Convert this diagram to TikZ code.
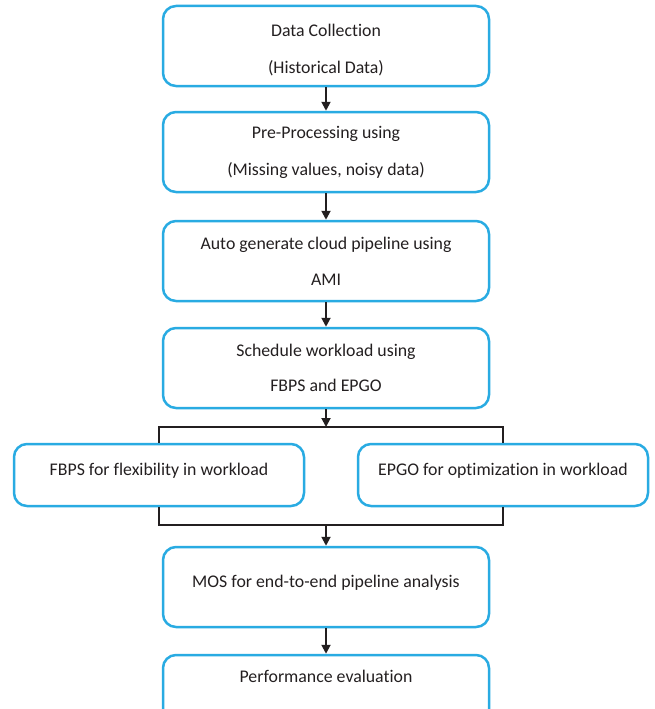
\documentclass[tikz,border=0pt]{standalone}
\usepackage{fontspec}
\setmainfont{Carlito}[Ligatures={NoCommon}]
\usetikzlibrary{arrows.meta}
\definecolor{boxblue}{RGB}{41,171,226}
\definecolor{inkc}{RGB}{35,31,32}
\begin{document}
\begin{tikzpicture}[x=1pt,y=-1pt,
  box/.style={draw=boxblue,line width=2.5pt,rounded corners=13pt,align=center,
    font=\fontsize{17.8}{21}\selectfont,text=inkc,inner sep=0pt},
  wide/.style={minimum width=326pt},
  half/.style={minimum width=290pt},
  oneline/.style={text height=12pt,text depth=12pt},
  conn/.style={draw=inkc,line width=1.9pt,line join=miter},
  arr/.style={conn,-{Triangle[length=9pt,width=9pt]}}]
\useasboundingbox (0,0) rectangle (654,709);
\clip (0,0) rectangle (654,709);
\node[box,wide,minimum height=80pt] (b1) at (326,46) {\rule{0pt}{21pt}Data Collection\\[16pt](Historical Data)};
\node[box,wide,minimum height=80pt] (b2) at (326,152) {Pre-Processing using\\[16pt](Missing values, noisy data)};
\node[box,wide,minimum height=80pt] (b3) at (326,261) {Auto generate cloud pipeline using\\[15pt]AMI};
\node[box,wide,minimum height=80pt] (b4) at (326,368) {Schedule workload using\\[14pt]FBPS and EPGO};
\node[box,half,minimum height=62pt,oneline] (fl) at (159,475) {FBPS for flexibility in workload};
\node[box,half,minimum height=62pt,oneline] (fr) at (503,475) {EPGO for optimization in workload};
\node[box,wide,minimum height=80pt,oneline] (b5) at (326,587) {MOS for end-to-end pipeline analysis};
\node[box,wide,minimum height=70pt,text height=12pt,text depth=28pt] (b6) at (326,690) {Performance evaluation};
\coordinate (fork) at (326,427);
\coordinate (join) at (326,525);
\draw[arr] (b1) -- (b2);
\draw[arr] (b2) -- (b3);
\draw[arr] (b3) -- (b4);
\draw[arr] (b4) -- (fork);
\draw[conn] (fl.north) |- (fork) -| (fr.north);
\draw[conn] (fl.south) |- (join) -| (fr.south);
\draw[arr] (join) -- (b5);
\draw[arr] (b5) -- (b6);
\end{tikzpicture}
\end{document}
